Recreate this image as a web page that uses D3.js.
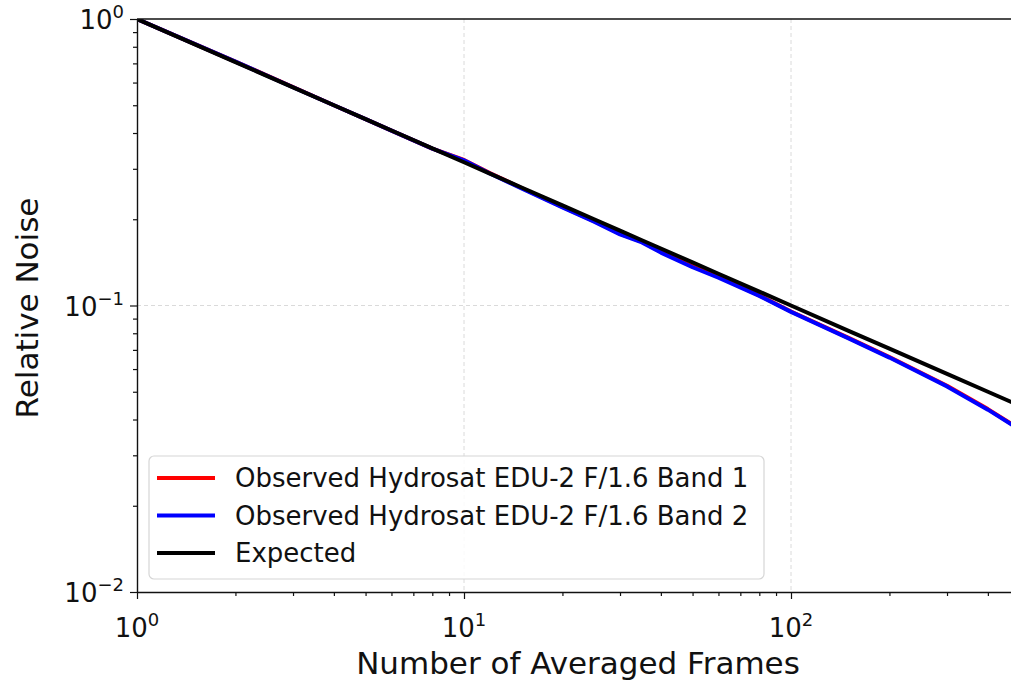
<!DOCTYPE html>
<html>
<head>
<meta charset="utf-8">
<script src="https://cdn.jsdelivr.net/npm/d3@7"></script>
<style>
  body { margin: 0; background: white; }
  text { font-family: "DejaVu Sans", sans-serif; fill: #111; }
</style>
</head>
<body>
<script>
var w = 1011;
var h = 685;

// frames averaged
var frames = [1, 2, 3, 4, 5, 6, 8, 10, 12, 15, 20, 25, 30, 35, 40, 50, 60, 80, 100, 150, 200, 300, 400, 500];
// observed noise, band 1 and band 2
var band1 = [1.0, 0.71, 0.579, 0.50, 0.447, 0.408, 0.353, 0.322, 0.290, 0.257, 0.221, 0.197, 0.178, 0.167, 0.154, 0.137, 0.126, 0.1085, 0.0953, 0.0771, 0.0661, 0.0525, 0.0435, 0.0371];
var band2 = [1.0, 0.71, 0.578, 0.50, 0.447, 0.408, 0.353, 0.321, 0.289, 0.256, 0.220, 0.196, 0.177, 0.166, 0.153, 0.136, 0.125, 0.108, 0.095, 0.0768, 0.0658, 0.0522, 0.0433, 0.0369];
// expected 1/sqrt(N)
var expected = [1.0, 0.7071, 0.5774, 0.5, 0.4472, 0.4082, 0.3536, 0.3162, 0.2887, 0.2582, 0.2236, 0.2, 0.1826, 0.169, 0.1581, 0.1414, 0.1291, 0.1118, 0.1, 0.0816, 0.0707, 0.0577, 0.05, 0.0447];

var seriesNames = ["Observed Hydrosat EDU-2 F/1.6 Band 1", "Observed Hydrosat EDU-2 F/1.6 Band 2", "Expected"];
var seriesColors = ["#ff0000", "#0000ff", "#000000"];
var xMajor = [1, 10, 100];
var yMajor = [0.01, 0.1, 1];

var left = 137, plotTop = 19, bottom = 592;

var svg = d3.select("body").append("svg")
  .attr("width", w)
  .attr("height", h);

var x = d3.scaleLog().domain([1, 500]).range([left, left + 327 * Math.log10(500)]);
var y = d3.scaleLog().domain([0.01, 1]).range([bottom, plotTop]);

svg.append("clipPath").attr("id", "clip")
  .append("rect")
  .attr("x", left).attr("y", plotTop)
  .attr("width", x(500) - left).attr("height", bottom - plotTop);

// grid
var grid = svg.append("g");
grid.selectAll("line.gx")
  .data(xMajor.slice(1))
  .join("line")
  .attr("class", "gx")
  .attr("x1", function(d){ return x(d); })
  .attr("x2", function(d){ return x(d); })
  .attr("y1", plotTop).attr("y2", bottom)
  .attr("stroke", "#d0d0d0").attr("stroke-width", 0.8)
  .attr("stroke-dasharray", "4,3");
grid.selectAll("line.gy")
  .data(yMajor.slice(1, 2))
  .join("line")
  .attr("class", "gy")
  .attr("y1", function(d){ return y(d); })
  .attr("y2", function(d){ return y(d); })
  .attr("x1", left).attr("x2", x(500))
  .attr("stroke", "#d0d0d0").attr("stroke-width", 0.8)
  .attr("stroke-dasharray", "4,3");

// lines
var line = d3.line()
  .x(function(d){ return x(d[0]); })
  .y(function(d){ return y(d[1]); });

var allSeries = [band1, band2, expected];
svg.append("g").attr("clip-path", "url(#clip)")
  .selectAll("path")
  .data(allSeries)
  .join("path")
  .attr("d", function(vals){ return line(frames.map(function(f, i){ return [f, vals[i]]; })); })
  .attr("fill", "none")
  .attr("stroke", function(d, i){ return seriesColors[i]; })
  .attr("stroke-width", 4)
  .attr("stroke-linejoin", "round");

// minor ticks
var xMinor = [];
[1, 10, 100].forEach(function(b){ for (var k = 2; k <= 9; k++) { if (b * k <= 500) xMinor.push(b * k); } });
var yMinor = [];
[0.01, 0.1].forEach(function(b){ for (var k = 2; k <= 9; k++) yMinor.push(b * k); });

var xAxis = svg.append("g")
  .attr("transform", "translate(0," + bottom + ")")
  .call(d3.axisBottom(x).tickValues(xMajor).tickFormat("").tickSize(7).tickSizeOuter(0));
var xMinorG = svg.append("g")
  .attr("transform", "translate(0," + bottom + ")")
  .call(d3.axisBottom(x).tickValues(xMinor).tickFormat("").tickSize(4));
xMinorG.select(".domain").remove();
var yAxis = svg.append("g")
  .attr("transform", "translate(" + left + ",0)")
  .call(d3.axisLeft(y).tickValues(yMajor).tickFormat("").tickSize(7).tickSizeOuter(0));
var yMinorG = svg.append("g")
  .attr("transform", "translate(" + left + ",0)")
  .call(d3.axisLeft(y).tickValues(yMinor).tickFormat("").tickSize(4));
yMinorG.select(".domain").remove();
svg.selectAll(".domain").attr("stroke", "#111").attr("stroke-width", 1.4);
svg.selectAll(".tick line").attr("stroke", "#111").attr("stroke-width", 1.2);

// top spine
svg.append("line")
  .attr("x1", left).attr("x2", w)
  .attr("y1", plotTop).attr("y2", plotTop)
  .attr("stroke", "#111").attr("stroke-width", 1.4);

// tick labels with exponents
function powLabel(g, d) {
  var e = Math.round(Math.log10(d));
  var t = g.append("text").attr("font-size", 26);
  t.append("tspan").text("10");
  t.append("tspan").attr("dy", -11).attr("font-size", 18).text(e < 0 ? "\u2212" + Math.abs(e) : e);
  return t;
}
xMajor.forEach(function(d){
  var g = svg.append("g").attr("transform", "translate(" + x(d) + "," + (bottom + 45) + ")");
  powLabel(g, d).attr("text-anchor", "middle");
});
yMajor.forEach(function(d){
  var g = svg.append("g").attr("transform", "translate(" + (left - 13) + "," + (y(d) + 10) + ")");
  powLabel(g, d).attr("text-anchor", "end");
});

// axis titles
svg.append("text")
  .attr("x", 578).attr("y", 674)
  .attr("text-anchor", "middle")
  .attr("font-size", 31)
  .text("Number of Averaged Frames");
svg.append("text")
  .attr("transform", "translate(38,308) rotate(-90)")
  .attr("text-anchor", "middle")
  .attr("font-size", 31)
  .text("Relative Noise");

// legend
var legend = svg.append("g").attr("transform", "translate(149,456)");
legend.append("rect")
  .attr("width", 615).attr("height", 123)
  .attr("rx", 5)
  .attr("fill", "white").attr("fill-opacity", 0.85)
  .attr("stroke", "#d6d6d6").attr("stroke-width", 1.2);
var items = legend.selectAll("g.item")
  .data(seriesNames)
  .join("g")
  .attr("transform", function(d, i){ return "translate(0," + (22 + i * 37.5) + ")"; });
items.append("line")
  .attr("x1", 8).attr("x2", 66)
  .attr("stroke", function(d, i){ return seriesColors[i]; })
  .attr("stroke-width", 4);
items.append("text")
  .attr("x", 86).attr("y", 9)
  .attr("font-size", 26)
  .text(function(d){ return d; });
</script>
</body>
</html>
